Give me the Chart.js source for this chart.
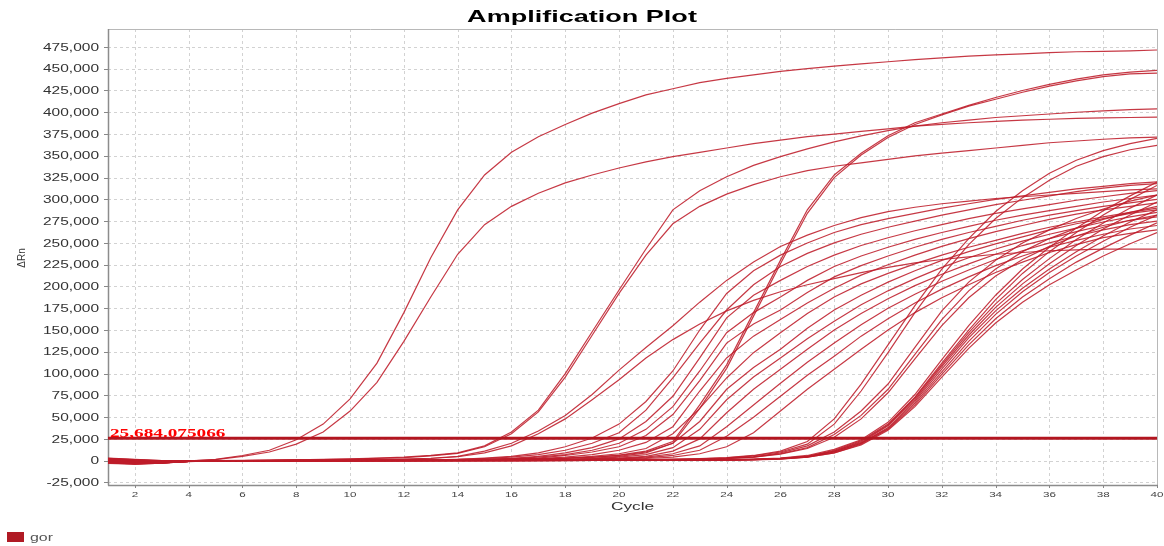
<!DOCTYPE html>
<html>
<head>
<meta charset="utf-8">
<title>Amplification Plot</title>
<script src="https://cdn.jsdelivr.net/npm/chart.js@4.4.1/dist/chart.umd.min.js"></script>
<style>
  html, body { margin: 0; padding: 0; background: #ffffff; }
  canvas { display: block; }
</style>
</head>
<body>
<canvas id="plot" width="1164" height="546"></canvas>
<script>
// Cycle numbers and axis ticks
const cycles = [1,2,3,4,5,6,7,8,9,10,11,12,13,14,15,16,17,18,19,20,
                21,22,23,24,25,26,27,28,29,30,31,32,33,34,35,36,37,38,39,40];
const xTicks = [2,4,6,8,10,12,14,16,18,20,22,24,26,28,30,32,34,36,38,40];
const yTicksK = [-25,0,25,50,75,100,125,150,175,200,225,250,275,300,325,350,375,400,425,450,475];

// Threshold (ΔRn, in thousands) and its printed value
const thresholdK = 25.684075066;
const thresholdText = '25,684.075066';
const groupName = 'gor';

// ΔRn per well, in thousands, cycles 1..40
const wellA = [2.5,1.0,-0.5,-0.5,1.5,6,12,24,42,71,112,170,233,288,328,354,372,386,399,410,420,427,434,439,443,447,450,453,455.5,458,460.5,462.5,464.5,466,467,468.5,469.5,470,470.5,471.5];
const wellB = [1.5,-0.5,-1.0,-0.3,1.2,5,10,19,33,57,90,137,188,237,271,292,307,319,328,336,343,349,354,359,364,368,372,375,378,381,384,386,388,389.5,391,392,393,393.5,394,394.5];
const wellC = [1.0,-1.5,-2.0,-0.8,0.0,0.3,0.6,1.0,1.5,2.0,3.0,4.0,6.0,9.0,17,33,58,100,148,196,243,288,310,326,339,349,358,366,373,379,384,388,391,394,396,398,400,401.5,403,404];
const wellD = [0.0,-2.5,-2.5,-1.0,0.0,0.2,0.5,0.9,1.3,1.8,2.6,3.6,5.5,8.5,16,31,56,96,144,192,236,272,292,306,317,326,333,338,342,346,350,353,356,359,362,365,367,369,370.5,371.5];
const wellE1 = [0.5,-1.5,-1.5,-0.5,0.0,0.2,0.4,0.6,0.8,1.0,1.3,1.8,2.8,5.0,11,20,34,52,76,104,130,155,182,207,228,246,259,270,279,286,291,295,298,301,303,305,307,309,311,312];
const wellE2 = [-1.0,-3.0,-2.5,-0.8,0.0,0.2,0.4,0.5,0.7,0.9,1.2,1.6,2.5,4.5,9,17,31,48,70,93,118,139,157,172,184,194,202,209,216,222,227,231,234,237,239,241,242,243,243,243];
const wellG = [0.5,-2.0,-1.5,-0.5,0.0,0.1,0.2,0.3,0.4,0.5,0.6,0.8,1.0,1.2,1.5,1.8,2.2,2.8,4.0,6.5,11,22,64,110,170,230,288,328,353,373,388,398,408,417,425,432,438,443,446,448];
const wellH = [-0.5,-2.5,-2.0,-0.6,0.0,0.1,0.2,0.3,0.3,0.4,0.5,0.7,0.9,1.1,1.4,1.7,2.0,2.6,3.7,6.0,10,20,60,106,166,226,284,325,351,371,386,397,407,415,423,430,436,441,444,445];
const wellM1 = [1.0,-1.0,-1.2,-0.4,0.0,0.1,0.2,0.3,0.4,0.5,0.7,0.9,1.2,1.6,3,5,9,16,26,42,68,103,150,192,218,236,250,262,271,278,284,290,295,300,304,308,312,315,318,320];
const wellM2 = [2.0,0.5,-0.5,-0.2,0.0,0.1,0.2,0.3,0.4,0.5,0.6,0.8,1.0,1.5,2.5,4,7,12,20,32,58,95,135,173,202,223,238,250,260,268,275,282,288,294,299,304,309,313,316,318];
const wellM3 = [0.0,-2.0,-1.8,-0.6,0.0,0.1,0.1,0.2,0.3,0.4,0.5,0.6,0.8,1.1,1.6,2.6,5,9,15,25,45,74,118,164,190,207,223,236,247,256,264,271,278,284,289,294,299,303,307,310];
const wellM4 = [-1.5,-3.5,-2.5,-0.8,-0.1,0.0,0.1,0.2,0.3,0.4,0.5,0.6,0.8,1.0,1.4,2.2,4,7,12,20,36,62,103,147,170,188,207,223,235,245,254,262,269,276,282,287,292,297,301,305];
const wellM5 = [1.2,-0.8,-1.0,-0.3,0.0,0.1,0.1,0.2,0.3,0.3,0.4,0.5,0.7,0.9,1.2,1.8,3.0,6,10,16,29,53,92,135,157,173,193,211,224,235,245,254,262,269,276,282,287,292,296,300];
const wellM6 = [-0.5,-2.2,-2.0,-0.7,0.0,0.0,0.1,0.1,0.2,0.3,0.4,0.5,0.6,0.8,1.0,1.5,2.5,4,7,12,21,39,80,118,143,162,181,198,213,225,236,246,255,263,270,277,283,288,292,296];
const wellM7 = [3.0,1.5,0.2,0.0,0.1,0.1,0.1,0.2,0.2,0.3,0.3,0.4,0.5,0.6,0.8,1.1,1.8,3.0,5,8,14,31,60,95,124,147,169,188,203,215,226,236,245,253,261,268,274,280,285,290];
const wellM8 = [-2.5,-4.0,-2.8,-0.9,-0.2,0.0,0.0,0.1,0.1,0.2,0.2,0.3,0.4,0.5,0.6,0.8,1.1,1.6,2.6,5,9,20,45,82,107,128,152,173,190,205,218,230,240,249,257,265,272,278,284,288];
const wellM9 = [0.8,-1.2,-1.4,-0.5,0.0,0.0,0.1,0.1,0.1,0.2,0.2,0.3,0.3,0.4,0.5,0.7,1.0,1.4,2.2,4,7,15,36,70,96,118,140,160,179,195,209,222,233,243,252,260,267,274,280,285];
const wellM10 = [-0.3,-2.0,-1.9,-0.6,0.0,0.0,0.1,0.1,0.1,0.1,0.2,0.2,0.3,0.3,0.4,0.6,0.8,1.2,1.8,3.0,5,11,25,55,82,105,128,150,169,186,201,214,226,237,247,255,263,270,276,280];
const wellM11 = [1.4,-0.4,-0.9,-0.3,0.0,0.0,0.0,0.1,0.1,0.1,0.2,0.2,0.2,0.3,0.3,0.5,0.7,1.0,1.5,2.4,4,8,17,39,64,89,113,135,156,175,191,206,219,231,241,250,258,265,271,275];
const wellM12 = [-1.0,-2.9,-2.3,-0.7,-0.1,0.0,0.0,0.1,0.1,0.1,0.1,0.2,0.2,0.2,0.3,0.4,0.6,0.9,1.3,2.0,3.2,6,12,28,50,74,98,120,143,163,181,197,211,224,235,245,253,260,266,270];
const wellM13 = [0.4,-1.0,-1.2,-0.4,0.0,0.0,0.0,0.0,0.1,0.1,0.1,0.1,0.2,0.2,0.2,0.3,0.5,0.7,1.0,1.6,2.5,4,8,16,32,57,82,105,128,150,170,187,202,216,228,239,248,256,261,265];
const wellL1 = [1.8,0.2,-0.6,-0.2,0.0,0.0,0.1,0.1,0.1,0.1,0.2,0.2,0.2,0.3,0.3,0.4,0.5,0.6,0.8,1.0,1.3,1.8,2.5,3.5,6.0,11,22,48,88,133,178,220,255,286,310,330,345,356,364,370];
const wellL2 = [-2.0,-3.2,-2.2,-0.7,-0.1,0.0,0.0,0.1,0.1,0.1,0.1,0.2,0.2,0.2,0.3,0.3,0.4,0.5,0.7,0.9,1.2,1.6,2.2,3.2,5.5,10,19,42,80,124,170,212,248,278,302,322,338,349,357,362];
const wellL3 = [0.3,-1.6,-1.6,-0.5,0.0,0.0,0.0,0.1,0.1,0.1,0.1,0.1,0.2,0.2,0.2,0.3,0.3,0.4,0.5,0.7,0.9,1.2,1.8,2.8,4.5,9.0,17,33,57,88,130,172,205,230,250,265,278,289,298,305];
const wellL4 = [2.2,0.8,-0.2,-0.1,0.0,0.0,0.0,0.1,0.1,0.1,0.1,0.1,0.1,0.2,0.2,0.3,0.3,0.4,0.5,0.6,0.8,1.1,1.6,2.5,4.2,8.0,15,30,52,82,122,162,195,220,240,255,267,277,285,292];
const wellL5 = [-1.2,-2.8,-2.3,-0.7,-0.1,0.0,0.0,0.0,0.1,0.1,0.1,0.1,0.1,0.2,0.2,0.2,0.3,0.3,0.4,0.5,0.7,1.0,1.5,2.3,4.0,7.5,14,27,48,78,117,155,187,212,231,246,258,268,276,282];
const wellT1 = [1.5,0.0,-0.8,-0.3,0.0,0.0,0.0,0.0,0.1,0.1,0.1,0.1,0.1,0.1,0.2,0.2,0.2,0.3,0.3,0.4,0.5,0.6,0.8,1.2,1.8,3.0,6.0,13,24,44,76,116,155,190,220,245,267,287,304,320];
const wellT2 = [-0.8,-2.6,-2.0,-0.6,0.0,0.0,0.0,0.0,0.0,0.1,0.1,0.1,0.1,0.1,0.1,0.2,0.2,0.2,0.3,0.3,0.4,0.5,0.7,1.0,1.6,2.7,5.0,12,23,42,73,112,150,185,215,240,262,282,300,316];
const wellT3 = [0.6,-1.3,-1.5,-0.5,0.0,0.0,0.0,0.0,0.0,0.1,0.1,0.1,0.1,0.1,0.1,0.1,0.2,0.2,0.2,0.3,0.4,0.5,0.7,1.0,1.5,2.6,5.0,11,22,41,72,110,147,180,208,232,254,273,290,305];
const wellT4 = [-3.0,-4.0,-2.7,-0.9,-0.2,0.0,0.0,0.0,0.0,0.0,0.1,0.1,0.1,0.1,0.1,0.1,0.2,0.2,0.2,0.3,0.3,0.4,0.6,0.9,1.4,2.5,4.8,11,21,40,70,108,144,176,203,226,247,266,282,297];
const wellT5 = [2.6,1.2,0.0,-0.1,0.0,0.0,0.0,0.0,0.0,0.0,0.1,0.1,0.1,0.1,0.1,0.1,0.1,0.2,0.2,0.2,0.3,0.4,0.6,0.9,1.3,2.3,4.5,10,20,38,68,105,141,172,198,220,240,258,274,288];
const wellT6 = [-1.8,-3.4,-2.4,-0.8,-0.1,0.0,0.0,0.0,0.0,0.0,0.0,0.1,0.1,0.1,0.1,0.1,0.1,0.2,0.2,0.2,0.3,0.4,0.5,0.8,1.2,2.2,4.4,10,20,37,66,102,137,168,194,216,235,252,268,282];
const wellT7 = [0.2,-1.8,-1.7,-0.6,0.0,0.0,0.0,0.0,0.0,0.0,0.0,0.1,0.1,0.1,0.1,0.1,0.1,0.1,0.2,0.2,0.3,0.3,0.5,0.7,1.1,2.0,4.2,9.0,19,36,64,99,133,163,188,209,228,244,259,273];
const wellT8 = [-2.2,-3.8,-2.6,-0.8,-0.1,0.0,0.0,0.0,0.0,0.0,0.0,0.0,0.1,0.1,0.1,0.1,0.1,0.1,0.2,0.2,0.2,0.3,0.4,0.7,1.0,1.9,4.0,9.0,18,35,62,96,129,158,182,202,219,235,249,262];

const wells = [wellA, wellB, wellC, wellD, wellE1, wellE2, wellG, wellH,
               wellM1, wellM2, wellM3, wellM4, wellM5, wellM6, wellM7, wellM8, wellM9,
               wellM10, wellM11, wellM12, wellM13,
               wellL1, wellL2, wellL3, wellL4, wellL5,
               wellT1, wellT2, wellT3, wellT4, wellT5, wellT6, wellT7, wellT8];

const CURVE_COLOR = 'rgba(190, 28, 42, 0.88)';
const THRESH_COLOR = 'rgb(178, 22, 32)';
const LEGEND_COLOR = 'rgb(176, 26, 36)';
const GRID_COLOR = '#d2d2d2';
const AXIS_COLOR = '#8c8c8c';
const X_STRETCH = 1.55;

const datasets = wells.map(vals => ({
  data: cycles.map((c, i) => ({ x: c, y: vals[i] })),
  borderColor: CURVE_COLOR,
  borderWidth: 1.2,
  pointRadius: 0,
  tension: 0,
  fill: false,
  order: 1
}));
datasets.push({
  data: [{ x: cycles[0], y: thresholdK }, { x: cycles[cycles.length - 1], y: thresholdK }],
  borderColor: THRESH_COLOR,
  borderWidth: 3,
  pointRadius: 0,
  tension: 0,
  fill: false,
  order: 0
});

// Text drawn with a horizontal stretch, the way this instrument export renders it
function wideText(ctx, text, x, y, font, color, align, sx) {
  ctx.save();
  ctx.translate(x, y);
  ctx.scale(sx, 1);
  ctx.font = font;
  ctx.fillStyle = color;
  ctx.textAlign = align;
  ctx.textBaseline = 'alphabetic';
  ctx.fillText(text, 0, 0);
  ctx.restore();
}

function line(ctx, x1, y1, x2, y2) {
  ctx.beginPath();
  ctx.moveTo(x1, y1);
  ctx.lineTo(x2, y2);
  ctx.stroke();
}

const fmt = new Intl.NumberFormat('en-US');

const decor = {
  id: 'decor',
  beforeDatasetsDraw(chart) {
    const { ctx, chartArea: a } = chart;
    const xs = chart.scales.x, ys = chart.scales.y;
    ctx.save();

    // dashed grid at every tick
    ctx.strokeStyle = GRID_COLOR;
    ctx.lineWidth = 1;
    ctx.setLineDash([3, 3]);
    xTicks.forEach(v => {
      const px = Math.round(xs.getPixelForValue(v)) + 0.5;
      line(ctx, px, a.top, px, a.bottom);
    });
    yTicksK.forEach(v => {
      const py = Math.round(ys.getPixelForValue(v)) + 0.5;
      line(ctx, a.left, py, a.right, py);
    });
    ctx.setLineDash([]);

    // frame: light top/right, darker axes
    ctx.strokeStyle = '#b8b8b8';
    line(ctx, a.left, a.top + 0.5, a.right + 0.5, a.top + 0.5);
    line(ctx, a.right + 0.5, a.top, a.right + 0.5, a.bottom);
    ctx.strokeStyle = AXIS_COLOR;
    ctx.lineWidth = 1.5;
    line(ctx, a.left + 0.5, a.top, a.left + 0.5, a.bottom + 0.5);
    line(ctx, a.left, a.bottom + 0.5, a.right + 1, a.bottom + 0.5);

    // tick marks
    ctx.lineWidth = 1;
    ctx.strokeStyle = '#888';
    yTicksK.forEach(v => {
      const py = Math.round(ys.getPixelForValue(v)) + 0.5;
      line(ctx, a.left - 4, py, a.left, py);
    });
    xTicks.forEach(v => {
      const px = Math.round(xs.getPixelForValue(v)) + 0.5;
      line(ctx, px, a.bottom, px, a.bottom + 3);
    });
    ctx.restore();
  },
  afterDraw(chart) {
    const { ctx, chartArea: a } = chart;
    const xs = chart.scales.x, ys = chart.scales.y;

    // title
    wideText(ctx, 'Amplification Plot', chart.width / 2, 22, 'bold 17px "Liberation Sans", Arial, sans-serif', '#000', 'center', 1.59);

    // y tick labels
    yTicksK.forEach(v => {
      const py = ys.getPixelForValue(v);
      wideText(ctx, fmt.format(v * 1000), 99, py + 3.6, '10px "Liberation Sans", Arial, sans-serif', '#333', 'right', X_STRETCH);
    });

    // x tick labels
    xTicks.forEach(v => {
      const px = xs.getPixelForValue(v);
      wideText(ctx, String(v), px, 497, '7.5px "Liberation Sans", Arial, sans-serif', '#444', 'center', X_STRETCH);
    });

    // axis titles
    wideText(ctx, 'Cycle', (a.left + a.right) / 2, 510, '11.5px "Liberation Sans", Arial, sans-serif', '#333', 'center', 1.5);
    ctx.save();
    ctx.translate(24.5, (a.top + a.bottom) / 2 + 1);
    ctx.rotate(-Math.PI / 2);
    ctx.font = '10px "Liberation Sans", Arial, sans-serif';
    ctx.fillStyle = '#333';
    ctx.textAlign = 'center';
    ctx.textBaseline = 'alphabetic';
    ctx.fillText('ΔRn', 0, 0);
    ctx.restore();

    // threshold value
    const ty = ys.getPixelForValue(thresholdK);
    wideText(ctx, thresholdText, a.left + 2, ty - 1.6, 'bold 13px "Liberation Serif", "Times New Roman", serif', '#ff0000', 'left', 1.48);

    // legend
    ctx.save();
    ctx.fillStyle = LEGEND_COLOR;
    ctx.fillRect(7, 532, 17, 10);
    ctx.restore();
    wideText(ctx, groupName, 30, 541, '11px "Liberation Sans", Arial, sans-serif', '#555', 'left', 1.45);
  }
};

new Chart(document.getElementById('plot'), {
  type: 'line',
  data: { datasets },
  options: {
    responsive: false,
    devicePixelRatio: 1,
    animation: false,
    events: [],
    layout: { padding: { top: 29, right: 7, left: 0, bottom: 0 } },
    plugins: {
      legend: { display: false },
      title: { display: false },
      tooltip: { enabled: false }
    },
    scales: {
      x: {
        type: 'linear',
        min: 1,
        max: 40,
        afterBuildTicks: s => { s.ticks = xTicks.map(v => ({ value: v })); },
        afterFit: s => { s.height = 61; },
        ticks: { display: false },
        grid: { display: false },
        border: { display: false }
      },
      y: {
        type: 'linear',
        min: -27.9,
        max: 495.6,
        afterBuildTicks: s => { s.ticks = yTicksK.map(v => ({ value: v })); },
        afterFit: s => { s.width = 108; },
        ticks: { display: false },
        grid: { display: false },
        border: { display: false }
      }
    }
  },
  plugins: [decor]
});
</script>
</body>
</html>
